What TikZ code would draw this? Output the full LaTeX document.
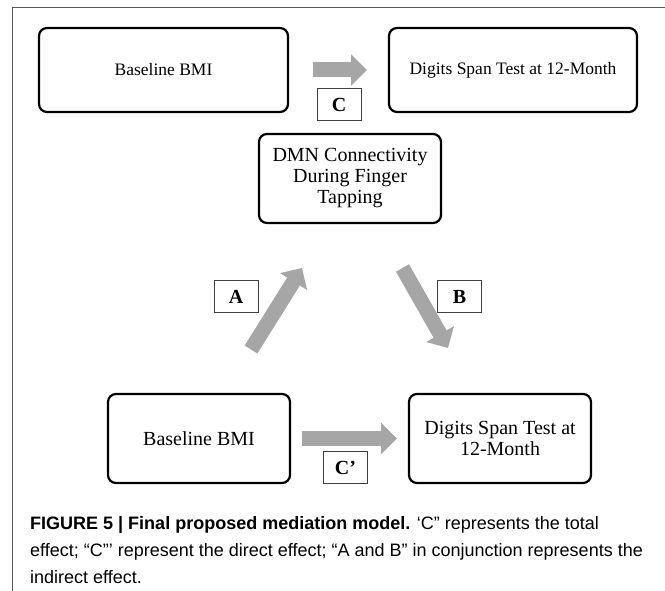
\documentclass[tikz,border=0pt]{standalone}
\usepackage{fontspec}
\setmainfont{Liberation Serif}
\newfontfamily\captionfont{Liberation Sans}
\usetikzlibrary{arrows.meta}

\begin{document}
\begin{tikzpicture}[x=1pt, y=-1pt,
        varbox/.style={draw, line width=2.2pt, rounded corners=8pt, align=center,
            inner sep=0pt, font=\fontsize{20}{21}\selectfont},
        pathlabel/.style={draw=black!75, line width=0.9pt, inner sep=0pt,
            minimum width=44pt, minimum height=32pt, font=\fontsize{20}{21}\selectfont\bfseries},
        blockarrow/.style={draw=black!35, line width=15pt, -{Triangle[width=31pt, length=16pt]}}]

        \useasboundingbox (0,0) rectangle (665,591);

        \draw[black!65, line width=1pt] (665,8) -- (12,8) -- (12,591);

        % total effect
        \node[varbox, minimum width=249pt, minimum height=84pt, font=\fontsize{17.5}{19}\selectfont]
            (bmitop) at (163.5,70) {Baseline BMI};
        \node[varbox, minimum width=248pt, minimum height=84pt, font=\fontsize{17.5}{19}\selectfont]
            (spantop) at (513,70) {Digits Span Test at 12-Month};
        \node[pathlabel] (labc) at (339,104.5) {C};

        % #######################################

        \node[varbox, minimum width=182pt, minimum height=89pt] (dmn) at (350,178.5)
            {DMN Connectivity\\During Finger\\Tapping};
        \node[varbox, minimum width=182pt, minimum height=89pt] (bmi) at (199,438.5) {Baseline BMI};
        \node[varbox, minimum width=182pt, minimum height=89pt] (span) at (500,438.5)
            {Digits Span Test at\\12-Month};

        \node[pathlabel] (laba) at (236,296.5) {A};
        \node[pathlabel] (labb) at (459.5,296.5) {B};
        \node[pathlabel] (labcp) at (345.5,467.5) {C’};

        % #######################################

        \coordinate (ctail) at (313,70);
        \coordinate (chead) at (367,70);
        \coordinate (atail) at (251,349.5);
        \coordinate (ahead) at (302,268);
        \coordinate (btail) at (402.5,268);
        \coordinate (bhead) at (448,348);
        \coordinate (cptail) at (302,438.5);
        \coordinate (cphead) at (397,438.5);

        \draw[blockarrow] (ctail) -- (chead);
        \draw[blockarrow] (atail) -- (ahead);
        \draw[blockarrow] (btail) -- (bhead);
        \draw[blockarrow] (cptail) -- (cphead);

        \node[anchor=base west, align=left, inner sep=0pt,
            font=\captionfont\fontsize{18}{27}\selectfont] (caption) at (30,583)
            {\textbf{FIGURE 5 | Final proposed mediation model.} ‘C” represents the total\\
             effect; “C”’ represent the direct effect; “A and B” in conjunction represents the\\
             indirect effect.};

    \end{tikzpicture}
\end{document}
